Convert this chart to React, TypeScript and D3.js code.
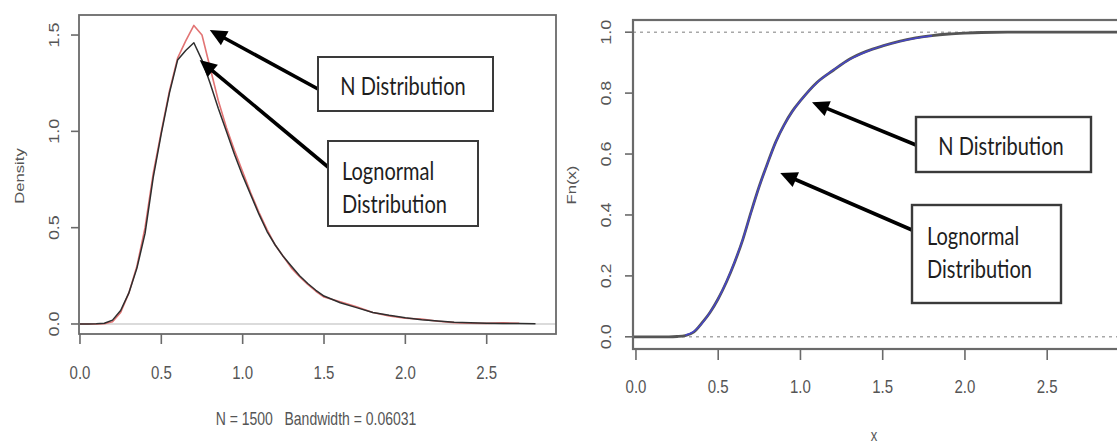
import React from "react";
import * as d3 from "d3";

// ---------- data ----------
const densityX = [
  0.0, 0.05, 0.1, 0.15, 0.2, 0.25, 0.3, 0.35, 0.4, 0.45, 0.5, 0.55, 0.6, 0.65, 0.7, 0.75, 0.8, 0.85, 0.9, 0.95,
  1.0, 1.05, 1.1, 1.15, 1.2, 1.25, 1.3, 1.35, 1.4, 1.45, 1.5, 1.6, 1.7, 1.8, 1.9, 2.0, 2.1, 2.2, 2.3, 2.4, 2.5,
  2.6, 2.7, 2.8,
];
const lognormalDensity = [
  0, 0, 0.001, 0.004, 0.02, 0.07, 0.16, 0.29, 0.47, 0.76, 0.99, 1.2, 1.37, 1.42, 1.46, 1.37, 1.25, 1.12, 1.0, 0.88,
  0.77, 0.67, 0.57, 0.48, 0.41, 0.35, 0.3, 0.25, 0.21, 0.175, 0.145, 0.11, 0.085, 0.06, 0.045, 0.032, 0.022, 0.015,
  0.009, 0.006, 0.004, 0.003, 0.002, 0.001,
];
const nDensity = [
  0, 0, 0, 0.002, 0.012, 0.06, 0.16, 0.3, 0.5, 0.78, 1.0, 1.21, 1.38, 1.47, 1.55, 1.5, 1.33, 1.16, 1.02, 0.9,
  0.79, 0.68, 0.58, 0.49, 0.41, 0.35, 0.29, 0.245, 0.205, 0.17, 0.14, 0.115, 0.09, 0.06, 0.042, 0.03, 0.025, 0.014,
  0.007, 0.004, 0.003, 0.006, 0.004, 0.0,
];

const cdfX = [
  -0.02, 0.2, 0.25, 0.3, 0.35, 0.4, 0.45, 0.5, 0.55, 0.6, 0.65, 0.7, 0.75, 0.8, 0.85, 0.9, 0.95, 1.0, 1.1, 1.2, 1.3,
  1.4, 1.5, 1.6, 1.7, 1.8, 1.9, 2.0, 2.1, 2.26, 3.0,
];
const empiricalCdf = [
  0, 0, 0.001, 0.004, 0.015, 0.045, 0.08, 0.125, 0.18, 0.245, 0.32, 0.41, 0.495, 0.57, 0.64, 0.695, 0.74, 0.775,
  0.835, 0.875, 0.912, 0.937, 0.955, 0.97, 0.981, 0.989, 0.994, 0.997, 0.999, 1.0, 1.0,
];
const theoreticalX = [0.3, 0.35, 0.4, 0.45, 0.5, 0.55, 0.6, 0.65, 0.7, 0.75, 0.8, 0.85, 0.9, 0.95, 1.0, 1.1, 1.2, 1.3, 1.4, 1.5, 1.6, 1.7, 1.8];
const theoreticalCdf = [
  0.005, 0.017, 0.043, 0.08, 0.125, 0.181, 0.246, 0.321, 0.409, 0.494, 0.569, 0.639, 0.694, 0.739, 0.775, 0.834,
  0.876, 0.911, 0.936, 0.955, 0.969, 0.98, 0.988,
];

const densityXTicks = [0, 0.5, 1.0, 1.5, 2.0, 2.5];
const densityYTicks = [0, 0.5, 1.0, 1.5];
const cdfXTicks = [0, 0.5, 1.0, 1.5, 2.0, 2.5];
const cdfYTicks = [0, 0.2, 0.4, 0.6, 0.8, 1.0];

const subtitle = "N = 1500   Bandwidth = 0.06031";

// ---------- helpers ----------
const AXIS = "#6a6a6a";
const TICKTXT = "#555";
const SY = 1.28;

function T({ x, y, size, children, rot = false, anchor = "middle", family = "'Liberation Sans', Arial, sans-serif", fill = TICKTXT, weight = 400 }: any) {
  const tr = `translate(${x},${y}) scale(1,${SY})` + (rot ? " rotate(-90)" : "");
  return (
    <text transform={tr} fontSize={size} fontFamily={family} fill={fill} textAnchor={anchor} dominantBaseline="central" fontWeight={weight} style={{ whiteSpace: "pre" }}>
      {children}
    </text>
  );
}

function Arrow({ x1, y1, x2, y2 }: any) {
  const ang = Math.atan2(y2 - y1, x2 - x1);
  const L = 17, W = 8;
  const bx = x2 - L * Math.cos(ang), by = y2 - L * Math.sin(ang);
  const px = -Math.sin(ang) * W, py = Math.cos(ang) * W;
  return (
    <g>
      <line x1={x1} y1={y1} x2={bx + 3 * Math.cos(ang)} y2={by + 3 * Math.sin(ang)} stroke="#000" strokeWidth={3.6} />
      <polygon points={`${x2},${y2} ${bx + px},${by + py} ${bx - px},${by - py}`} fill="#000" />
    </g>
  );
}

const ANN = "Lato, 'Open Sans', sans-serif";

export default function App() {
  // left panel scales
  const xL = d3.scaleLinear().domain([-0.006, 2.926]).range([79, 556]);
  const yL = d3.scaleLinear().domain([-0.052, 1.604]).range([334, 15]);
  // right panel scales
  const xR = d3.scaleLinear().domain([-0.018, 2.973]).range([633, 1125]);
  const yR = d3.scaleLinear().domain([-0.04, 1.04]).range([349, 20]);

  const lineL = d3.line<number>().x((_, i) => xL(densityX[i])).y((d) => yL(d));
  const lineRedPts = densityX.map((x, i) => [x, nDensity[i]] as [number, number]).filter((p) => p[0] <= 2.72);
  const lineRed = d3.line<[number, number]>().x((d) => xL(d[0])).y((d) => yL(d[1]));

  const ecdfLine = d3
    .line<number>()
    .x((_, i) => xR(cdfX[i]))
    .y((d) => yR(d))
    .curve(d3.curveMonotoneX);
  const theoLine = d3
    .line<number>()
    .x((_, i) => xR(theoreticalX[i]))
    .y((d) => yR(d))
    .curve(d3.curveMonotoneX);

  const [l0, l1] = xL.range();
  const [b0, t0] = yL.range();
  const [r0, r1] = xR.range();
  const [b1, t1] = yR.range();

  return (
    <svg width={1117} height={444} style={{ position: "fixed", left: 0, top: 0, background: "#fff" }}>
      <defs>
        <clipPath id="clipL">
          <rect x={l0} y={t0} width={l1 - l0} height={b0 - t0} />
        </clipPath>
        <clipPath id="clipR">
          <rect x={r0} y={t1} width={r1 - r0} height={b1 - t1} />
        </clipPath>
      </defs>
      <rect x={0} y={0} width={1117} height={444} fill="#fff" />

      {/* ---------- LEFT PANEL ---------- */}
      <g clipPath="url(#clipL)">
        <line x1={l0} x2={l1} y1={yL(0)} y2={yL(0)} stroke="#b8b8b8" strokeWidth={1.2} />
        <path d={lineRed(lineRedPts) || ""} fill="none" stroke="#e27474" strokeWidth={1.6} strokeLinejoin="round" />
        <path d={lineL(lognormalDensity) || ""} fill="none" stroke="#2e2e2e" strokeWidth={1.5} strokeLinejoin="round" />
      </g>
      <rect x={l0} y={t0} width={l1 - l0} height={b0 - t0} fill="none" stroke={AXIS} strokeWidth={1.8} />
      {densityXTicks.map((t) => (
        <g key={"lx" + t}>
          <line x1={xL(t)} x2={xL(t)} y1={b0} y2={b0 + 10} stroke={AXIS} strokeWidth={1.6} />
          <T x={xL(t)} y={372} size={15}>{t.toFixed(1)}</T>
        </g>
      ))}
      {densityYTicks.map((t) => (
        <g key={"ly" + t}>
          <line x1={l0} x2={l0 - 8} y1={yL(t)} y2={yL(t)} stroke={AXIS} strokeWidth={1.6} />
          <T x={54} y={yL(t)} size={14} rot>{t.toFixed(1)}</T>
        </g>
      ))}
      <T x={19} y={176} size={13} rot>Density</T>
      <T x={316} y={418} size={14}>{subtitle}</T>

      {/* left annotations */}
      <Arrow x1={318} y1={89} x2={xL(0.798)} y2={yL(1.526)} />
      <Arrow x1={328} y1={167} x2={xL(0.736)} y2={yL(1.37)} />
      <rect x={318} y={57} width={175} height={54} fill="#fff" stroke="#3a3a3a" strokeWidth={2} />
      <T x={403} y={85} size={20} family={ANN} fill="#1e1e1e">N Distribution</T>
      <rect x={328} y={141} width={150} height={85} fill="#fff" stroke="#3a3a3a" strokeWidth={2} />
      <T x={342} y={170} size={20} family={ANN} fill="#1e1e1e" anchor="start">Lognormal</T>
      <T x={342} y={203} size={20} family={ANN} fill="#1e1e1e" anchor="start">Distribution</T>

      {/* ---------- RIGHT PANEL ---------- */}
      <g clipPath="url(#clipR)">
        <line x1={r0} x2={r1} y1={yR(0)} y2={yR(0)} stroke="#a8a8a8" strokeWidth={1.6} strokeDasharray="3,4" />
        <line x1={r0} x2={r1} y1={yR(1)} y2={yR(1)} stroke="#a8a8a8" strokeWidth={1.6} strokeDasharray="3,4" />
        <path d={ecdfLine(empiricalCdf) || ""} fill="none" stroke="#555" strokeWidth={2.8} />
        <path d={theoLine(theoreticalCdf) || ""} fill="none" stroke="#4646c8" strokeWidth={1.5} />
      </g>
      <rect x={r0} y={t1} width={r1 - r0} height={b1 - t1} fill="none" stroke={AXIS} strokeWidth={2.2} />
      {cdfXTicks.map((t) => (
        <g key={"rx" + t}>
          <line x1={xR(t)} x2={xR(t)} y1={b1} y2={b1 + 11} stroke={AXIS} strokeWidth={1.6} />
          <T x={xR(t)} y={386} size={15}>{t.toFixed(1)}</T>
        </g>
      ))}
      {cdfYTicks.map((t) => (
        <g key={"ry" + t}>
          <line x1={r0} x2={r0 - 8} y1={yR(t)} y2={yR(t)} stroke={AXIS} strokeWidth={1.6} />
          <T x={606} y={yR(t)} size={14} rot>{t.toFixed(1)}</T>
        </g>
      ))}
      <T x={571} y={185} size={13} rot>Fn(x)</T>
      <T x={874} y={435} size={13}>x</T>

      {/* right annotations */}
      <Arrow x1={916} y1={145} x2={xR(1.07)} y2={yR(0.77)} />
      <Arrow x1={912} y1={230} x2={xR(0.877)} y2={yR(0.538)} />
      <rect x={916} y={117} width={175} height={55} fill="#fff" stroke="#3a3a3a" strokeWidth={2.4} />
      <T x={1001} y={145} size={20} family={ANN} fill="#1e1e1e">N Distribution</T>
      <rect x={912} y={205} width={149} height={98} fill="#fff" stroke="#3a3a3a" strokeWidth={2.4} />
      <T x={927} y={235} size={20} family={ANN} fill="#1e1e1e" anchor="start">Lognormal</T>
      <T x={927} y={268} size={20} family={ANN} fill="#1e1e1e" anchor="start">Distribution</T>
    </svg>
  );
}
